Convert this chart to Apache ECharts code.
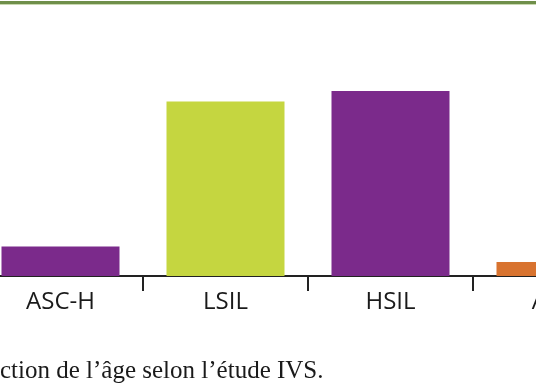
<!DOCTYPE html>
<html><head><meta charset="utf-8">
<script src="https://cdn.jsdelivr.net/npm/echarts@6/dist/echarts.min.js"></script>
<style>html,body{margin:0;padding:0;background:#fff}#c{width:536px;height:386px}</style>
</head><body><div id="c"></div>
<script>
const categories = ['ASC-H', 'LSIL', 'HSIL', 'AGC'];
const values = [29.5, 174.5, 185, 14];
const colors = ['#7b2a8b', '#c5d640', '#7b2a8b', '#d8732f'];
const caption = 'ction de l\u2019âge selon l\u2019étude IVS.';

const chart = echarts.init(document.getElementById('c'), null, {renderer: 'canvas'});
chart.setOption({
  animation: false,
  grid: {left: -22, top: 26, width: 660, bottom: 110, containLabel: false, outerBoundsMode: 'none'},
  xAxis: {
    type: 'category', data: categories,
    axisLine: {lineStyle: {color: '#222', width: 2}},
    axisTick: {show: true, length: 15, lineStyle: {color: '#222', width: 2}},
    axisLabel: {color: '#1a1a1a', fontSize: 24, fontFamily: 'Open Sans', margin: 14, hideOverlap: false}
  },
  yAxis: {type: 'value', min: 0, max: 250, show: false, splitLine: {show: false}},
  series: [{
    type: 'bar', barWidth: 118,
    data: values.map((v, i) => ({value: v, itemStyle: {color: colors[i]}}))
  }],
  graphic: [
    {type: 'rect', shape: {x: 0, y: 1, width: 536, height: 3}, style: {fill: '#6f8f4a'}},
    {type: 'rect', shape: {x: 0, y: 4, width: 536, height: 1}, style: {fill: '#c9d8b0'}},
    {type: 'text', left: 0, top: 359, style: {text: caption, font: '25px "Liberation Serif"', fill: '#1a1a1a'}}
  ]
});
</script></body></html>
